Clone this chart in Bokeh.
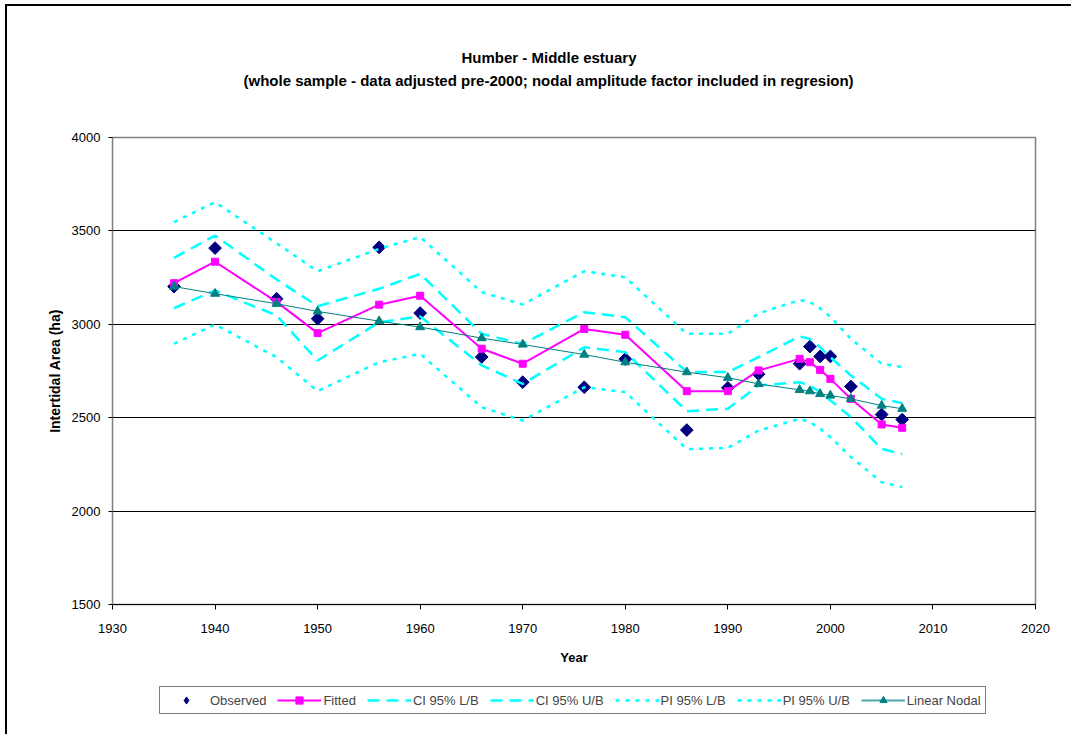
import math
from bokeh.plotting import figure
from bokeh.layouts import column
from bokeh.models import Range1d, FixedTicker, Legend, LegendItem, Title
from bokeh.embed import file_html
from bokeh.resources import INLINE

years = [1936, 1940, 1946, 1950, 1956, 1960, 1966, 1970, 1976, 1980,
         1986, 1990, 1993, 1997, 1998, 1999, 2000, 2002, 2005, 2007]
observed = [3202, 3408, 3137, 3030, 3412, 3060, 2825, 2690, 2663, 2814,
            2434, 2660, 2733, 2789, 2881, 2828, 2828, 2667, 2517, 2490]
fitted = [3220, 3335, 3120, 2953, 3105, 3153, 2869, 2789, 2975, 2944,
          2642, 2642, 2753, 2815, 2797, 2756, 2708, 2601, 2464, 2446]
ci_lb = [3086, 3181, 3047, 2806, 3011, 3042, 2780, 2681, 2877, 2851,
         2535, 2548, 2672, 2690, 2672, 2637, 2592, 2503, 2333, 2306]
ci_ub = [3356, 3475, 3240, 3097, 3190, 3270, 2949, 2895, 3065, 3038,
         2745, 2744, 2824, 2935, 2922, 2877, 2824, 2726, 2601, 2578]
pi_lb = [2896, 2999, 2824, 2642, 2797, 2842, 2556, 2485, 2663, 2637,
         2332, 2338, 2431, 2494, 2476, 2441, 2396, 2289, 2155, 2128]
pi_ub = [3547, 3654, 3434, 3284, 3404, 3467, 3172, 3106, 3284, 3252,
         2949, 2949, 3058, 3130, 3120, 3085, 3040, 2922, 2789, 2771]
linear_nodal = [3202, 3164, 3110, 3069, 3017, 2985, 2926, 2892, 2838, 2797,
                2744, 2714, 2681, 2649, 2642, 2627, 2619, 2601, 2565, 2548]

x_ticks = [1930, 1940, 1950, 1960, 1970, 1980, 1990, 2000, 2010, 2020]
y_ticks = [1500, 2000, 2500, 3000, 3500, 4000]

title1 = "Humber - Middle estuary"
title2 = "(whole sample - data adjusted pre-2000; nodal amplitude factor included in regresion)"
legend_labels = ["Observed", "Fitted", "CI 95% L/B", "CI 95% U/B",
                 "PI 95% L/B", "PI 95% U/B", "Linear Nodal"]

FONT = "Liberation Sans"
HAS_STANDOFF = "standoff" in Title.properties()
W = 105 + 923 + 36

p = figure(frame_width=923, frame_height=467,
           min_border_left=105, min_border_right=36,
           min_border_top=0, min_border_bottom=70,
           x_range=Range1d(1930, 2020), y_range=Range1d(1500, 4000),
           output_backend="svg", toolbar_location=None, tools="")
p.background_fill_color = "white"
p.border_fill_color = "white"
p.outline_line_color = "#808080"
p.outline_line_width = 1.5
p.title.visible = False


def make_title(txt, offset, standoff, size="15px"):
    t = Title(text=txt, align="left", offset=offset, text_font=FONT,
              text_font_size=size, text_font_style="bold", text_color="black")
    if HAS_STANDOFF:
        t.standoff = standoff
    return t


# titles: last added is outermost
p.add_layout(make_title(" ", 0, 30, "13px"), "above")
p.add_layout(make_title(title2, 131, 4), "above")
p.add_layout(make_title(title1, 349, 4), "above")
p.add_layout(make_title(" ", 0, 21, "13px"), "above")

# grid
p.xgrid.visible = False
p.ygrid.ticker = FixedTicker(ticks=[2000, 2500, 3000, 3500])
p.ygrid.grid_line_color = "black"
p.ygrid.grid_line_width = 1

# axes
p.xaxis.ticker = FixedTicker(ticks=x_ticks)
p.yaxis.ticker = FixedTicker(ticks=y_ticks)
for ax in (p.xaxis[0], p.yaxis[0]):
    ax.major_label_text_font = FONT
    ax.major_label_text_font_size = "13px"
    ax.major_label_text_color = "black"
    ax.axis_label_text_font = FONT
    ax.axis_label_text_font_style = "bold"
    ax.axis_label_text_color = "black"
    ax.minor_tick_line_color = None
    ax.major_tick_in = 0
    ax.major_tick_line_color = "black"
p.xaxis.axis_label = "Year"
p.xaxis.axis_label_text_font_size = "13px"
p.xaxis.axis_line_color = "black"
p.xaxis.major_tick_out = 5
p.xaxis.major_label_standoff = 14
p.xaxis.axis_label_standoff = 14
p.yaxis.axis_label = "Intertidal Area (ha)"
p.yaxis.axis_label_text_font_size = "14px"
p.yaxis.axis_line_color = "#808080"
p.yaxis.major_tick_out = 4
p.yaxis.major_label_standoff = 8
p.yaxis.axis_label_standoff = 6

# series styles
sty_obs = dict(marker="square", angle=math.pi / 4, size=9,
               fill_color="#000080", line_color="#000080")
sty_obs_key = dict(marker="diamond", size=9,
                   fill_color="#000080", line_color="#000080")
sty_fit_l = dict(line_color="#FF00FF", line_width=2)
sty_fit_m = dict(marker="square", size=7, fill_color="#FF00FF", line_color="#FF00FF")
sty_ci = dict(line_color="#00FFFF", line_width=2.5, line_dash="12 7")
sty_pi = dict(line_color="#00FFFF", line_width=2.5, line_dash="4 6")
sty_lin_l = dict(line_color="#008080", line_width=1)
sty_lin_key = dict(line_color="#4FA8A8", line_width=2)
sty_lin_m = dict(marker="triangle", size=9, fill_color="#008080", line_color="#008080")

p.scatter(years, observed, **sty_obs)
p.line(years, fitted, **sty_fit_l)
p.scatter(years, fitted, **sty_fit_m)
p.line(years, ci_lb, **sty_ci)
p.line(years, ci_ub, **sty_ci)
p.line(years, pi_lb, **sty_pi)
p.line(years, pi_ub, **sty_pi)
p.line(years, linear_nodal, **sty_lin_l)
p.scatter(years, linear_nodal, **sty_lin_m)

# legend strip: same series, drawn outside its visible range so only keys show
lg = figure(width=W, height=60, min_border=0, x_range=Range1d(0, 1),
            y_range=Range1d(0, 1), output_backend="svg",
            toolbar_location=None, tools="")
lg.axis.visible = False
lg.grid.visible = False
lg.outline_line_color = None
lg.background_fill_color = "white"
lg.border_fill_color = "white"
k_obs = [lg.scatter(years, observed, **sty_obs_key)]
k_fit = [lg.line(years, fitted, **sty_fit_l), lg.scatter(years, fitted, **sty_fit_m)]
k_cil = [lg.line(years, ci_lb, **sty_ci)]
k_ciu = [lg.line(years, ci_ub, **sty_ci)]
k_pil = [lg.line(years, pi_lb, **sty_pi)]
k_piu = [lg.line(years, pi_ub, **sty_pi)]
k_lin = [lg.line(years, linear_nodal, **sty_lin_key),
         lg.scatter(years, linear_nodal, **sty_lin_m)]
keys = [k_obs, k_fit, k_cil, k_ciu, k_pil, k_piu, k_lin]

legend = Legend(items=[LegendItem(label=lab, renderers=rs)
                       for lab, rs in zip(legend_labels, keys)],
                orientation="horizontal", location=(47, 20))
legend.label_text_font = FONT
legend.label_text_font_size = "13px"
legend.glyph_width = 44
legend.glyph_height = 18
legend.label_height = 18
legend.label_standoff = 2
legend.spacing = 11
legend.padding = 4
legend.margin = 0
legend.border_line_color = "black"
legend.border_line_width = 1
legend.background_fill_alpha = 1
lg.add_layout(legend, "center")

page = column(p, lg, spacing=0)
page.styles = {"border-left": "2px solid black", "border-top": "2px solid black",
               "margin-left": "5px", "margin-top": "4px"}

open("out.html", "w").write(file_html(page, INLINE))
